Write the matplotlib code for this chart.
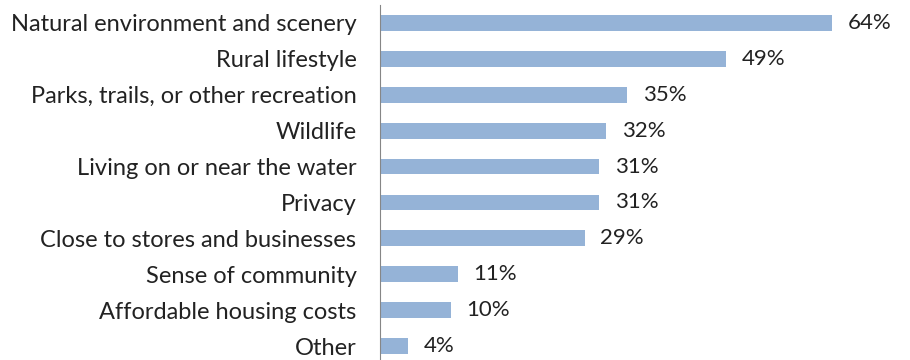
import matplotlib
matplotlib.use('Agg')
from matplotlib import pyplot as plt

categories = ['Natural environment and scenery', 'Rural lifestyle', 'Parks, trails, or other recreation',
              'Wildlife', 'Living on or near the water', 'Privacy', 'Close to stores and businesses',
              'Sense of community', 'Affordable housing costs', 'Other']
values = [64, 49, 35, 32, 31, 31, 29, 11, 10, 4]

plt.rcParams['font.family'] = ['Lato', 'DejaVu Sans']

fig = plt.figure(figsize=(9.1, 3.6), dpi=100)
ax = fig.add_axes([380 / 910, -4 / 360, 530 / 910, 359 / 360])

ypos = list(range(len(categories)))
ax.barh(ypos, values, height=0.44, color='#95b3d7')
for y, v in zip(ypos, values):
    ax.text(v + 2.2, y, f'{v}%', va='center', ha='left', fontsize=16, color='#222222')

ax.set_yticks(ypos)
ax.set_yticklabels(categories, fontsize=17, color='#222222')
ax.tick_params(axis='y', length=0, pad=17)
ax.set_ylim(len(categories) - 0.5, -0.5)
ax.set_xlim(0, 75)
ax.set_xticks([])
for s in ['top', 'right', 'bottom']:
    ax.spines[s].set_visible(False)
ax.spines['left'].set_color('#868686')

fig.savefig('out.png', dpi=100)
